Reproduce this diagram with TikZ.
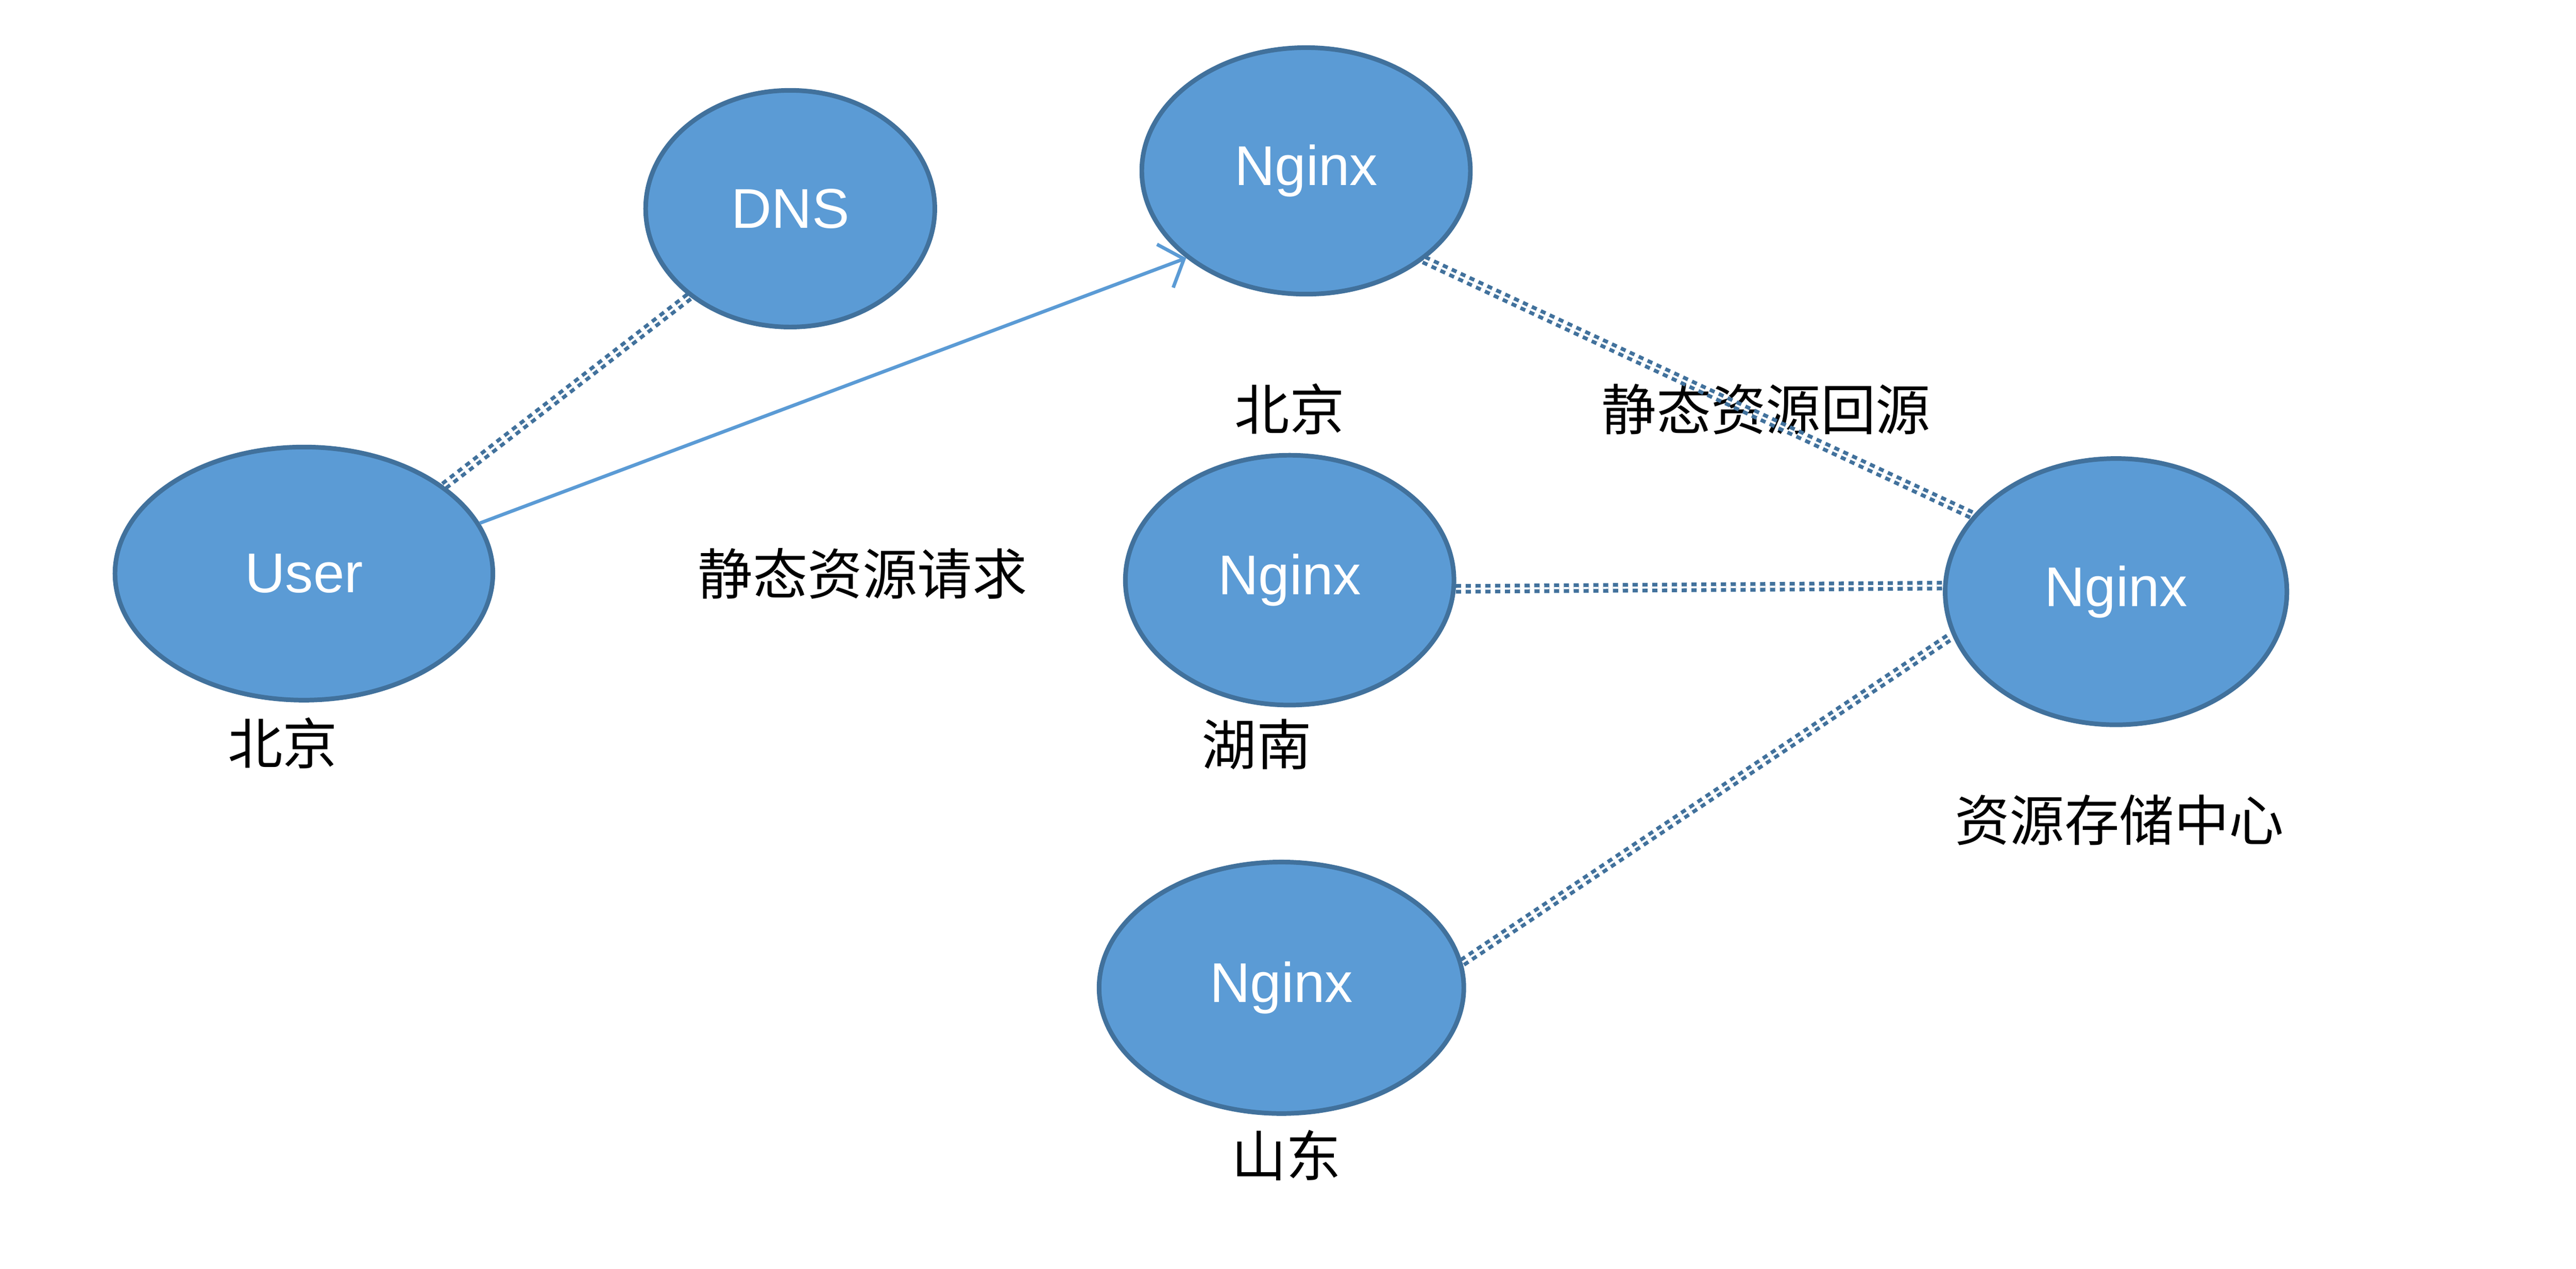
\documentclass[tikz,border=0pt]{standalone}
\usepackage{fontspec}
\setsansfont{Liberation Sans}
\newfontfamily\cjk{Noto Sans CJK SC}
\usetikzlibrary{shapes.geometric,arrows.meta}
\definecolor{nodeblue}{RGB}{91,155,213}
\definecolor{edgeblue}{RGB}{65,113,156}
\begin{document}
\begin{tikzpicture}[
    >={Straight Barb[length=3.5pt,width=8pt]},
    server/.style={ellipse, fill=nodeblue, draw=edgeblue, line width=0.8pt, text=white, inner sep=0pt,
      font=\sffamily\fontsize{9.7}{12}\selectfont},
    place/.style={font=\cjk\fontsize{9.5}{12}\selectfont, inner sep=0pt},
    link/.style={draw=edgeblue, line width=0.65pt, double=white, double distance=0.35pt, dash pattern=on 0.9pt off 0.8pt},
    request/.style={draw=nodeblue, line width=0.6pt}
  ]
      \useasboundingbox (0,0) rectangle (15.68,7.72);
      \node (user) at (1.85,4.23)[server, minimum width=2.30cm, minimum height=1.54cm] {User};
      \node (dns) at (4.81,6.45)[server, minimum width=1.76cm, minimum height=1.44cm] {DNS};
      \node (bj) at (7.95,6.68)[server, minimum width=2.00cm, minimum height=1.50cm] {Nginx};
      \node (hn) at (7.85,4.19)[server, minimum width=2.00cm, minimum height=1.52cm] {Nginx};
      \node (sd) at (7.80,1.71)[server, minimum width=2.22cm, minimum height=1.53cm] {Nginx};
      \node (store) at (12.88,4.12)[server, minimum width=2.08cm, minimum height=1.62cm] {Nginx};
      \foreach \name/\x/\y/\txt in {userbj/1.72/3.20/北京, req/5.25/4.23/静态资源请求, bjlabel/7.85/5.23/北京,
          back/10.75/5.23/静态资源回源, hnlabel/7.65/3.19/湖南, storelabel/12.90/2.73/资源存储中心, sdlabel/7.83/0.69/山东} {
          \node (\name) at (\x,\y)[place] {\txt};
      }
      \draw[link] (user.32) -- (dns.221);
      \draw[request, ->] (user.16) -- (bj.216);
      \draw[link] (bj.-37) -- (store.152);
      \draw[link] (hn.-3) -- (store.178);
      \draw[link] (sd.8) -- (store.195);
\end{tikzpicture}
\end{document}
